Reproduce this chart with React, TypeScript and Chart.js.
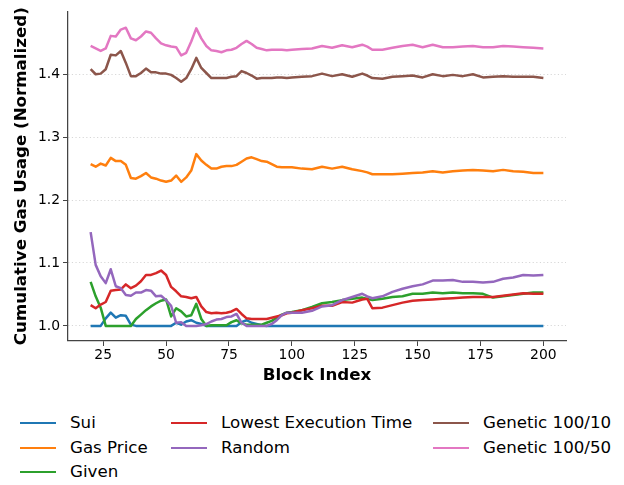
import { useEffect, useRef } from "react";
import { Chart, registerables } from "chart.js";

Chart.register(...registerables);

// Block indices sampled along the run
const blocks = [
  20, 22, 24, 26, 28, 30, 32, 34, 36, 38, 40, 42, 44, 46, 48, 50, 52, 54, 56, 58,
  60, 62, 64, 66, 68, 70, 72, 74, 76, 78, 80, 82, 84, 86, 88, 90, 92, 94, 96, 98,
  100, 104, 108, 112, 116, 120, 124, 128, 130, 132, 136, 140, 144, 148, 152, 156,
  160, 164, 168, 172, 176, 180, 184, 188, 192, 196, 200,
];

const sui = [
  1, 1, 1, 1.012, 1.021, 1.013, 1.017, 1.016, 1.002, 1, 1, 1, 1, 1, 1, 1, 1, 1.005, 1.002, 1.007,
  1.009, 1.005, 1.003, 1, 1, 1, 1, 1, 1, 1, 1.006, 1.009, 1.005, 1.003, 1.001, 1, 1, 1, 1, 1,
  1, 1, 1, 1, 1, 1, 1, 1, 1, 1, 1, 1, 1, 1, 1, 1,
  1, 1, 1, 1, 1, 1, 1, 1, 1, 1, 1,
];

const gasPrice = [
  1.257, 1.253, 1.258, 1.255, 1.267, 1.262, 1.262, 1.256, 1.235, 1.234, 1.238, 1.243, 1.236, 1.234, 1.231, 1.229, 1.231, 1.239, 1.229, 1.236,
  1.247, 1.273, 1.263, 1.256, 1.25, 1.25, 1.253, 1.254, 1.254, 1.256, 1.261, 1.266, 1.268, 1.265, 1.262, 1.261, 1.257, 1.253, 1.252, 1.252,
  1.252, 1.25, 1.249, 1.253, 1.25, 1.253, 1.249, 1.246, 1.244, 1.241, 1.241, 1.241, 1.242, 1.243, 1.244, 1.246,
  1.244, 1.246, 1.247, 1.248, 1.247, 1.246, 1.248, 1.246, 1.245, 1.243, 1.243,
];

const given = [
  1.07, 1.047, 1.029, 1, 1, 1, 1, 1, 1, 1.011, 1.018, 1.025, 1.031, 1.036, 1.04, 1.042, 1.015, 1.028, 1.023, 1.015,
  1.017, 1.035, 1.011, 1, 1.001, 1.001, 1.001, 1.001, 1.006, 1.009, 1.004, 1.002, 1.002, 1.002, 1.002, 1.005, 1.008, 1.013, 1.018, 1.021,
  1.022, 1.025, 1.03, 1.036, 1.038, 1.041, 1.043, 1.045, 1.043, 1.041, 1.043, 1.046, 1.047, 1.051, 1.051, 1.053,
  1.052, 1.053, 1.052, 1.052, 1.051, 1.045, 1.047, 1.049, 1.051, 1.053, 1.053,
];

const lowestExecTime = [
  1.033, 1.028, 1.034, 1.038, 1.056, 1.057, 1.058, 1.066, 1.06, 1.064, 1.071, 1.081, 1.081, 1.084, 1.088, 1.081, 1.062, 1.055, 1.047, 1.046,
  1.044, 1.046, 1.031, 1.022, 1.02, 1.021, 1.02, 1.021, 1.023, 1.027, 1.019, 1.012, 1.011, 1.011, 1.011, 1.011, 1.013, 1.015, 1.017, 1.02,
  1.021, 1.025, 1.028, 1.032, 1.032, 1.038, 1.037, 1.042, 1.043, 1.028, 1.029, 1.033, 1.037, 1.04, 1.041, 1.042,
  1.043, 1.044, 1.045, 1.046, 1.046, 1.046, 1.048, 1.05, 1.052, 1.051, 1.051,
];

const random = [
  1.149, 1.097, 1.079, 1.068, 1.09, 1.063, 1.06, 1.049, 1.048, 1.053, 1.053, 1.057, 1.056, 1.047, 1.048, 1.041, 1.032, 1.005, 1.006, 1,
  1, 1, 1.001, 1.003, 1.007, 1.01, 1.011, 1.014, 1.015, 1.019, 1.005, 1, 1, 1, 1, 1, 1.003, 1.009, 1.017, 1.021,
  1.021, 1.021, 1.024, 1.031, 1.033, 1.041, 1.046, 1.051, 1.047, 1.044, 1.047, 1.054, 1.059, 1.063, 1.066, 1.072,
  1.072, 1.073, 1.07, 1.07, 1.069, 1.07, 1.075, 1.077, 1.081, 1.08, 1.081,
];

const genetic10 = [
  1.408, 1.4, 1.401, 1.408, 1.431, 1.43, 1.437, 1.418, 1.397, 1.397, 1.402, 1.409, 1.403, 1.403, 1.401, 1.401, 1.399, 1.394, 1.388, 1.394,
  1.408, 1.426, 1.41, 1.402, 1.394, 1.394, 1.394, 1.394, 1.396, 1.397, 1.405, 1.402, 1.398, 1.393, 1.394, 1.394, 1.394, 1.395, 1.395, 1.394,
  1.395, 1.396, 1.397, 1.401, 1.397, 1.4, 1.396, 1.401, 1.398, 1.394, 1.393, 1.396, 1.397, 1.398, 1.395, 1.4,
  1.397, 1.399, 1.397, 1.4, 1.395, 1.396, 1.397, 1.396, 1.396, 1.396, 1.394,
];

const genetic50 = [
  1.445, 1.441, 1.437, 1.441, 1.461, 1.46, 1.471, 1.474, 1.457, 1.454, 1.46, 1.468, 1.466, 1.457, 1.449, 1.446, 1.444, 1.443, 1.43, 1.434,
  1.452, 1.473, 1.457, 1.445, 1.438, 1.437, 1.435, 1.438, 1.439, 1.442, 1.448, 1.453, 1.448, 1.442, 1.44, 1.438, 1.439, 1.439, 1.439, 1.438,
  1.439, 1.44, 1.441, 1.445, 1.442, 1.446, 1.443, 1.447, 1.444, 1.439, 1.439, 1.442, 1.445, 1.447, 1.443, 1.447,
  1.443, 1.443, 1.444, 1.445, 1.443, 1.443, 1.445, 1.444, 1.443, 1.442, 1.441,
];

const seriesNames = [
  "Sui",
  "Gas Price",
  "Given",
  "Lowest Execution Time",
  "Random",
  "Genetic 100/10",
  "Genetic 100/50",
];
const seriesColors = ["#1f77b4", "#ff7f0e", "#2ca02c", "#d62728", "#9467bd", "#8c564b", "#e377c2"];

const xTicks = [25, 50, 75, 100, 125, 150, 175, 200];
const yTicks = [1.0, 1.1, 1.2, 1.3, 1.4];

const FAMILY = "'DejaVu Sans', sans-serif";

// legend layout: three columns, filled column by column
const legendCols = [20, 171, 433];
const legendRows = [423, 448, 472];
const legendSlots = [
  [0, 0], [0, 1], [0, 2],
  [1, 0], [1, 1],
  [2, 0], [2, 1],
];

export default function App() {
  const canvasRef = useRef<HTMLCanvasElement>(null);

  useEffect(() => {
    const seriesValues = [sui, gasPrice, given, lowestExecTime, random, genetic10, genetic50];
    const chart = new Chart(canvasRef.current!, {
      type: "line",
      data: {
        datasets: seriesValues.map((vals, i) => ({
          label: seriesNames[i],
          data: blocks.map((b, j) => ({ x: b, y: vals[j] })),
          borderColor: seriesColors[i],
          backgroundColor: seriesColors[i],
          borderWidth: 2.5,
          pointRadius: 0,
          tension: 0,
          fill: false,
          borderJoinStyle: "round",
          order: seriesValues.length - i,
        })),
      },
      options: {
        animation: false,
        responsive: false,
        events: [],
        layout: { padding: { top: 10, right: 58, left: 0, bottom: 0 } },
        plugins: { legend: { display: false }, tooltip: { enabled: false } },
        scales: {
          x: {
            type: "linear",
            min: 11,
            max: 209,
            afterBuildTicks: (s: any) => {
              s.ticks = xTicks.map((v) => ({ value: v }));
            },
            afterFit: (s: any) => {
              s.height = 49;
            },
            ticks: {
              font: { family: FAMILY, size: 13.9 },
              color: "#000",
              padding: 1,
              maxRotation: 0,
              autoSkip: false,
              callback: (v: any) => String(v),
            },
            grid: {
              drawOnChartArea: false,
              drawTicks: true,
              tickLength: 5,
              tickColor: "#444",
              tickWidth: 1,
            },
            border: { display: true, color: "#444", width: 1.25 },
            title: {
              display: true,
              text: "Block Index",
              font: { family: FAMILY, size: 16.67, weight: "bold" },
              color: "#000",
              padding: { top: 0, bottom: 4 },
            },
          },
          y: {
            type: "linear",
            min: 0.976,
            max: 1.5,
            afterBuildTicks: (s: any) => {
              s.ticks = yTicks.map((v) => ({ value: v }));
            },
            afterFit: (s: any) => {
              s.width = 68;
            },
            ticks: {
              font: { family: FAMILY, size: 13.9 },
              color: "#000",
              padding: 3,
              autoSkip: false,
              callback: (v: any) => Number(v).toFixed(1),
            },
            grid: {
              color: "rgba(0,0,0,0.2)",
              lineWidth: 0.8,
              drawTicks: true,
              tickLength: 5,
              tickColor: "#444",
              tickWidth: 1,
            },
            border: { display: true, color: "#444", width: 1.25, dash: [1.2, 2.4] },
            title: {
              display: true,
              text: "Cumulative Gas Usage (Normalized)",
              font: { family: FAMILY, size: 16.67, weight: "bold" },
              color: "#000",
              padding: { top: 12, bottom: 0 },
            },
          },
        },
      },
    } as any);
    return () => chart.destroy();
  }, []);

  return (
    <div
      style={{
        position: "absolute",
        left: 0,
        top: 0,
        width: 624,
        height: 485,
        background: "#fff",
        fontFamily: FAMILY,
      }}
    >
      <canvas ref={canvasRef} width={624} height={390} style={{ display: "block" }} />
      {seriesNames.map((name, i) => {
        const [col, row] = legendSlots[i];
        const x = legendCols[col];
        const y = legendRows[row];
        return (
          <div
            key={name}
            style={{
              position: "absolute",
              left: x,
              top: y - 10,
              height: 20,
              display: "flex",
              alignItems: "center",
              whiteSpace: "nowrap",
            }}
          >
            <div style={{ width: 36, height: 2.5, background: seriesColors[i] }} />
            <span style={{ marginLeft: 14, fontSize: 16.67, lineHeight: "20px", color: "#000" }}>
              {name}
            </span>
          </div>
        );
      })}
    </div>
  );
}
